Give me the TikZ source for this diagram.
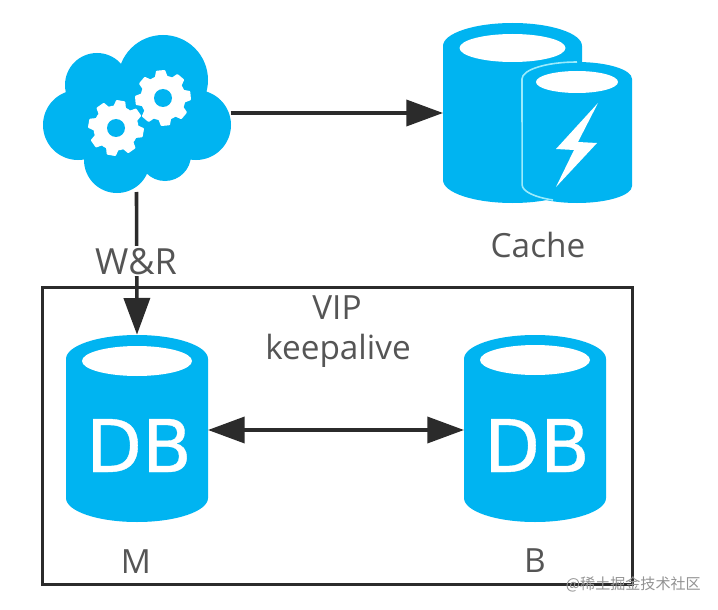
\documentclass[tikz,border=0pt]{standalone}
\usepackage{fontspec}
\setmainfont{Open Sans}
\newfontfamily\cjkwm{Noto Sans CJK SC}
\newfontfamily\dbfont[FakeBold=0.5]{DejaVu Sans}
\usetikzlibrary{arrows.meta}
\definecolor{dbblue}{HTML}{00B4F1}
\definecolor{glow}{HTML}{9BEBFC}
\definecolor{inkline}{HTML}{2B2B2B}
\definecolor{labelgray}{HTML}{555555}
\tikzset{
  anchorbox/.style={inner sep=0pt,outer sep=0pt,minimum width=#1},
  lbl/.style={anchor=base,text=labelgray,font=\fontsize{25pt}{28pt}\selectfont,inner sep=0pt},
  dblbl/.style={anchor=base,text=white,font=\dbfont\fontsize{54.5pt}{60pt}\selectfont,inner sep=0pt},
  conn/.style={draw=inkline,line width=2.7pt},
  head/.style={-{Triangle[length=27.5pt,width=19.5pt]}},
  bothheads/.style={{Triangle[length=27.5pt,width=19.5pt]}-{Triangle[length=27.5pt,width=19.5pt]}},
}
% cx, top, bottom, rx, ry, inner cy, inner rx, inner ry
\newcommand{\cylshape}[8]{%
  \path[fill=dbblue] (#1-#4,#2+#5) arc[start angle=180,end angle=360,x radius=#4,y radius=#5]
    -- (#1+#4,#3-#5) arc[start angle=0,end angle=180,x radius=#4,y radius=#5] -- cycle;
  \path[fill=white] (#1,#6) ellipse[x radius=#7,y radius=#8];
}
% cx, cy, rotation
\newcommand{\gearshape}[3]{%
  \path[fill=white] (#1,#2) circle[radius=22.5];
  \foreach \a in {0,45,...,315}{
    \path[fill=white,draw=white,line width=1.5pt,line join=round]
      ({#1+20*cos(\a+#3-17)},{#2+20*sin(\a+#3-17)}) --
      ({#1+27*cos(\a+#3-8)},{#2+27*sin(\a+#3-8)}) --
      ({#1+27*cos(\a+#3+8)},{#2+27*sin(\a+#3+8)}) --
      ({#1+20*cos(\a+#3+17)},{#2+20*sin(\a+#3+17)}) -- cycle;
  }
  \path[fill=dbblue] (#1,#2) circle[radius=9];
}
\begin{document}
\begin{tikzpicture}[x=0.75pt,y=-0.75pt]
\useasboundingbox[fill=white] (0,0) rectangle (718,610);

% frame
\node[draw=inkline,line width=2.4pt,inner sep=0pt,outer sep=0pt,minimum width=442.5pt,minimum height=223pt] (frame) at (337.5,436) {};

% cloud
\path[fill=dbblue] (163,80) circle[radius=45] (97,85) circle[radius=32] (78,125) circle[radius=35]
  (196,125) circle[radius=35] (117,160) circle[radius=33] (165,155) circle[radius=26]
  (130,120) circle[radius=45];
\gearshape{116}{128}{10}
\gearshape{163}{98}{-5}
\node[anchorbox=141pt,minimum height=118.5pt] (cloud) at (136.5,113) {};

% cache cylinders
\cylshape{512.5}{23}{203}{69.5}{23}{48}{53}{14}
\cylshape{577}{62}{203}{55}{17}{82}{41}{11}
\path[draw=glow,line width=1.2pt] (553,200) arc[start angle=116,end angle=180,x radius=55,y radius=17]
  -- (522,79) arc[start angle=180,end angle=270,x radius=55,y radius=17];
\path[fill=white] (598,103) -- (556,149) -- (574,150) -- (556,187) -- (597,143) -- (578,142) -- cycle;
\node[anchorbox=104.25pt,minimum height=135pt] (cache) at (512.5,113) {};
\node[lbl] (cachelbl) at (538,257) {Cache};

% database cylinders
\cylshape{137}{335}{522}{71}{24}{361}{55}{15}
\node[anchorbox=106.5pt,minimum height=143pt] (dbm) at (137,430) {};
\node[dblbl] (dbmtxt) at (139,472) {DB};
\cylshape{535}{335}{522}{71}{24}{360}{55}{15}
\node[anchorbox=106.5pt,minimum height=143pt] (dbb) at (535,430) {};
\node[dblbl] (dbbtxt) at (537,472) {DB};

% connectors
\draw[conn,head] (cloud.east) -- (cache.west);
\draw[conn,head] (cloud.south) -- (dbm.north);
\draw[conn,bothheads] (dbm.east) -- (dbb.west);

% labels
\node[lbl,fill=white,inner sep=1.5pt,font=\fontsize{27pt}{30pt}\selectfont] (wr) at (136,274) {W\&R};
\node[lbl] (vip) at (337,319) {VIP};
\node[lbl] (keep) at (338,359) {keepalive};
\node[lbl] (m) at (136,573) {M};
\node[lbl] (b) at (535,572) {B};
\node[anchor=base east,inner sep=0pt,text=gray!85,font=\cjkwm\fontsize{11.3pt}{13pt}\selectfont] (wm) at (701,589) {@稀土掘金技术社区};
\end{tikzpicture}
\end{document}
